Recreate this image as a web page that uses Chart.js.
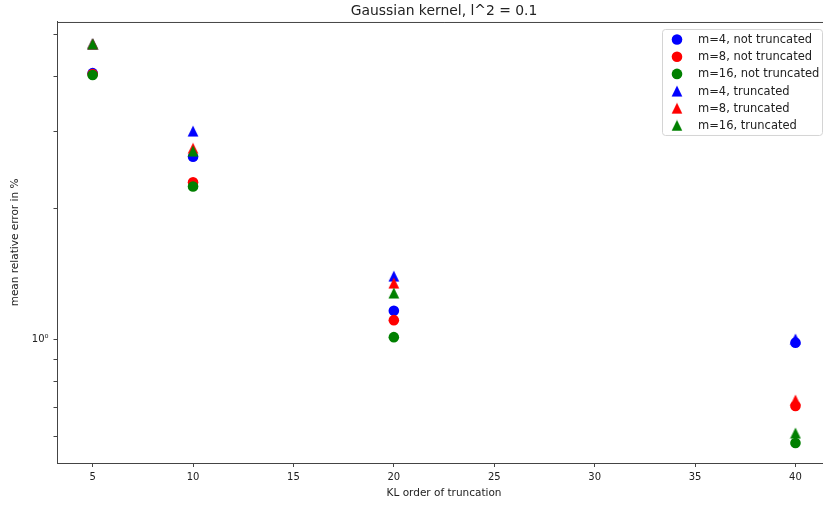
<!DOCTYPE html>
<html>
<head>
<meta charset="utf-8">
<script src="https://cdn.jsdelivr.net/npm/chart.js@4.4.0/dist/chart.umd.min.js"></script>
<style>
  html, body { margin: 0; padding: 0; overflow: hidden; background: #fff; }
  #wrap { width: 840px; height: 505px; }
</style>
</head>
<body>
<div id="wrap"><canvas id="klChart"></canvas></div>
<script>
// KL order of truncation vs mean relative error (%)
const klOrders = [5, 10, 20, 40];
const m4Full   = [4.07, 2.62, 1.164, 0.984];
const m8Full   = [4.05, 2.29, 1.108, 0.705];
const m16Full  = [4.03, 2.24, 1.013, 0.580];
const m4Trunc  = [4.75, 3.00, 1.397, 1.003];
const m8Trunc  = [4.75, 2.74, 1.347, 0.727];
const m16Trunc = [4.75, 2.70, 1.278, 0.611];

const xTicks = [5, 10, 15, 20, 25, 30, 35, 40];
const yTicks = [0.6, 0.7, 0.8, 0.9, 1, 2, 3, 4, 5];

const FONT = "'DejaVu Sans', sans-serif";

// triangle marker centred on its bounding box (not on the circumcentre)
function triangleMarker(color) {
  const c = document.createElement('canvas');
  c.width = 12; c.height = 12;
  const g = c.getContext('2d');
  g.fillStyle = color;
  g.beginPath();
  g.moveTo(6, 0.6);
  g.lineTo(11.4, 11.4);
  g.lineTo(0.6, 11.4);
  g.closePath();
  g.fill();
  return c;
}

function pts(ys) {
  return klOrders.map((x, i) => ({ x: x, y: ys[i] }));
}

function series(label, ys, color, tri, idx) {
  return {
    label: label,
    data: pts(ys),
    backgroundColor: color,
    borderColor: color,
    borderWidth: 0,
    pointStyle: tri ? triangleMarker(color) : 'circle',
    pointRadius: 5.3,
    showLine: false,
    order: 6 - idx   // later series on top
  };
}

const datasets = [
  series('m=4, not truncated',  m4Full,   '#0000ff', false, 0),
  series('m=8, not truncated',  m8Full,   '#ff0000', false, 1),
  series('m=16, not truncated', m16Full,  '#008000', false, 2),
  series('m=4, truncated',      m4Trunc,  '#0000ff', true, 3),
  series('m=8, truncated',      m8Trunc,  '#ff0000', true, 4),
  series('m=16, truncated',     m16Trunc, '#008000', true, 5)
];

// top spine + boxed legend in the upper right
const frameAndLegend = {
  id: 'frameAndLegend',
  afterDraw(chart) {
    const ctx = chart.ctx;
    const a = chart.chartArea;
    ctx.save();
    ctx.strokeStyle = '#444';
    ctx.lineWidth = 1;
    ctx.beginPath();
    ctx.moveTo(a.left, a.top + 0.5);
    ctx.lineTo(a.right, a.top + 0.5);
    ctx.stroke();

    const boxR = a.right - 8.6, boxT = a.top + 7;
    const boxW = 160, boxH = 106;
    const boxL = boxR - boxW;
    ctx.beginPath();
    ctx.roundRect(boxL + 0.5, boxT + 0.5, boxW, boxH, 3);
    ctx.fillStyle = 'rgba(255,255,255,0.8)';
    ctx.fill();
    ctx.strokeStyle = '#d4d4d4';
    ctx.stroke();

    ctx.font = '11.5px ' + FONT;
    ctx.textBaseline = 'middle';
    ctx.textAlign = 'left';
    chart.data.datasets.forEach((ds, i) => {
      const y = boxT + 10.5 + i * 17.2;
      const x = boxL + 15;
      if (ds.pointStyle === 'circle') {
        ctx.fillStyle = ds.backgroundColor;
        ctx.beginPath();
        ctx.arc(x, y, 5.3, 0, Math.PI * 2);
        ctx.fill();
      } else {
        ctx.drawImage(ds.pointStyle, x - 6, y - 6);
      }
      ctx.fillStyle = '#222';
      ctx.fillText(ds.label, boxL + 36, y + 0.5);
    });
    ctx.restore();
  }
};

new Chart(document.getElementById('klChart'), {
  type: 'scatter',
  data: { datasets: datasets },
  plugins: [frameAndLegend],
  options: {
    responsive: true,
    maintainAspectRatio: false,
    animation: false,
    layout: { padding: { left: 0, right: 9.4, top: 0, bottom: 0 } },
    plugins: {
      legend: { display: false },
      tooltip: { enabled: false },
      title: {
        display: true,
        fullSize: false,
        text: 'Gaussian kernel, l^2 = 0.1',
        color: '#222',
        font: { family: FONT, size: 13.9, weight: 'normal' },
        padding: { top: 3.5, bottom: 1.8 }
      }
    },
    scales: {
      x: {
        type: 'linear',
        min: 3.25,
        max: 41.75,
        afterBuildTicks: (s) => { s.ticks = xTicks.map(v => ({ value: v })); },
        afterFit: (s) => { s.height = 42; },
        ticks: {
          color: '#222',
          font: { family: FONT, size: 10 },
          padding: 4,
          maxRotation: 0,
          autoSkip: false
        },
        grid: { drawOnChartArea: false, drawTicks: true, tickLength: 4, tickColor: '#444' },
        border: { display: true, color: '#444', width: 1 },
        title: {
          display: true,
          text: 'KL order of truncation',
          color: '#222',
          font: { family: FONT, size: 10.5 },
          padding: { top: 0, bottom: 5.7 }
        }
      },
      y: {
        type: 'logarithmic',
        min: 0.522,
        max: 5.33,
        afterBuildTicks: (s) => { s.ticks = yTicks.map(v => ({ value: v, major: v === 1 })); },
        afterFit: (s) => { s.width = 57.5; },
        ticks: {
          color: '#222',
          font: { family: FONT, size: 10 },
          padding: 5,
          autoSkip: false,
          callback: (v) => (v === 1 ? '10\u2070' : '')
        },
        grid: {
          drawOnChartArea: false,
          drawTicks: true,
          tickLength: 4,
          tickColor: '#444'
        },
        border: { display: true, color: '#444', width: 1 },
        title: {
          display: true,
          text: 'mean relative error in %',
          color: '#222',
          font: { family: FONT, size: 10.5 },
          padding: { top: 8.7, bottom: 0 }
        }
      }
    }
  }
});
</script>
</body>
</html>
